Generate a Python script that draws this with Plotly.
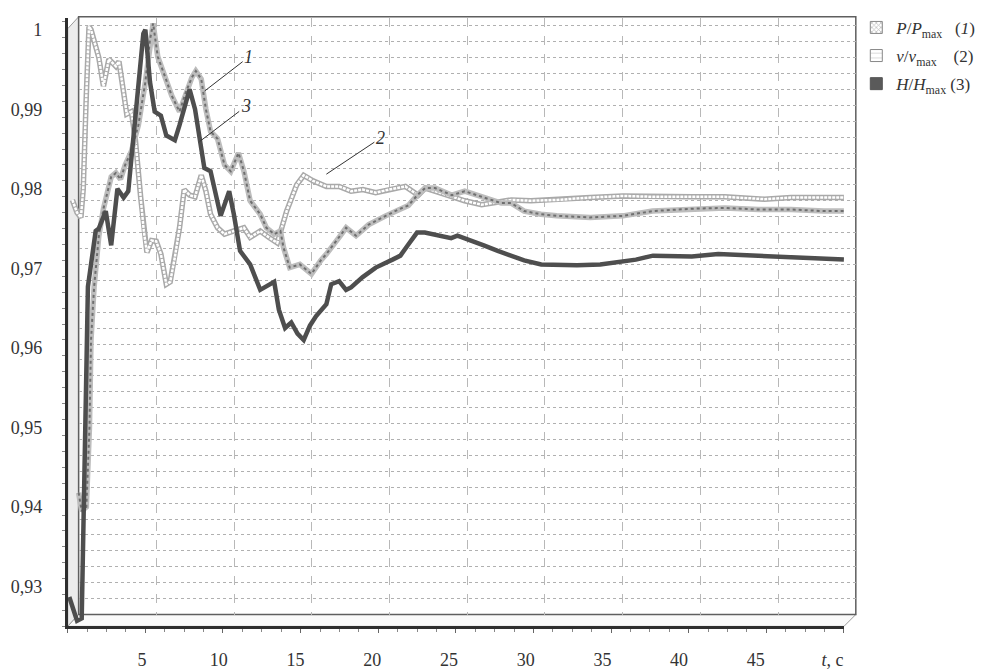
import plotly.graph_objects as go

W, H = 983, 670

# ---------------- data ----------------
t_P = [0.7, 0.9, 1.2, 1.4, 1.5, 1.7, 2.0, 2.3, 2.8, 3.1, 3.4, 3.7, 4.1, 4.55, 5.0, 5.3, 5.5,
       5.8, 6.25, 6.7, 7.2, 7.6, 8.0, 8.25, 8.6, 8.9, 9.2, 9.65, 10.1, 10.5, 11.0, 11.35, 11.75,
       12.4, 12.8, 13.3, 13.7, 13.9, 14.3, 14.95, 15.7, 16.3, 16.66, 17.48, 17.93, 18.57, 19.39,
       20.48, 21.31, 21.94, 22.52, 23.03, 23.66, 24.75, 25.57, 26.66, 27.93, 28.57, 29.4, 30.48,
       31.5, 33.66, 35.76, 37.67, 40.22, 42.32, 44.49, 46.59, 48.7, 50.0]
P_rel = [0.9418, 0.9395, 0.9400, 0.9500, 0.9610, 0.9677, 0.9740, 0.9775, 0.9815, 0.9820, 0.9812,
         0.9830, 0.9847, 0.9880, 0.9934, 0.9988, 1.0008, 0.9966, 0.9942, 0.9917, 0.9897, 0.9921,
         0.9940, 0.9948, 0.9938, 0.9900, 0.9872, 0.9863, 0.9830, 0.9822, 0.9845, 0.9822, 0.9785,
         0.9768, 0.9751, 0.9743, 0.9747, 0.9726, 0.9701, 0.9705, 0.9693, 0.9710, 0.9718, 0.9739,
         0.9751, 0.9741, 0.9755, 0.9766, 0.9774, 0.9779, 0.9792, 0.9801, 0.9801, 0.9792, 0.9797,
         0.9790, 0.9782, 0.9782, 0.9772, 0.9768, 0.9766, 0.9764, 0.9766, 0.9772, 0.9775, 0.9776,
         0.9774, 0.9774, 0.9772, 0.9772]

t_v = [0.3, 0.6, 0.85, 1.0, 1.2, 1.37, 1.5, 1.8, 2.0, 2.3, 2.65, 3.1, 3.3, 3.6, 3.8, 4.1, 4.35,
       4.7, 4.9, 5.1, 5.4, 5.7, 6.0, 6.35, 6.6, 6.9, 7.2, 7.5, 7.85, 8.2, 8.6, 8.9, 9.2, 9.65,
       10.1, 10.7, 11.35, 11.75, 12.4, 12.95, 13.5, 14.1, 14.75, 15.2, 15.8, 16.66, 17.48, 18.25,
       19.01, 19.84, 20.67, 21.75, 22.58, 23.03, 24.3, 25.57, 26.66, 27.67, 28.57, 29.84, 31.5,
       33.66, 35.76, 37.67, 40.22, 42.32, 44.87, 46.59, 50.0]
v_rel = [0.9786, 0.9770, 0.9764, 0.9800, 0.9920, 1.0004, 1.0000, 0.9979, 0.9965, 0.9929, 0.9963,
         0.9954, 0.9960, 0.9921, 0.9894, 0.9897, 0.9863, 0.9789, 0.9747, 0.9720, 0.9735, 0.9734,
         0.9718, 0.9680, 0.9683, 0.9714, 0.9751, 0.9799, 0.9792, 0.9790, 0.9817, 0.9797, 0.9768,
         0.9751, 0.9743, 0.9747, 0.9751, 0.9739, 0.9747, 0.9739, 0.9732, 0.9772, 0.9805, 0.9817,
         0.9810, 0.9803, 0.9803, 0.9797, 0.9799, 0.9795, 0.9799, 0.9803, 0.9792, 0.9801, 0.9793,
         0.9785, 0.9780, 0.9783, 0.9786, 0.9785, 0.9786, 0.9789, 0.9791, 0.9790, 0.9790, 0.9790,
         0.9787, 0.9789, 0.9789]

t_H = [0.1, 0.6, 0.9, 1.0, 1.1, 1.25, 1.3, 1.8, 2.0, 2.45, 2.8, 3.2, 3.6, 3.9, 4.3, 4.87, 5.0,
       5.3, 5.6, 6.0, 6.35, 6.9, 7.2, 7.85, 8.2, 8.5, 8.8, 9.2, 9.55, 9.85, 10.4, 10.7, 11.1,
       11.75, 12.4, 13.3, 13.6, 14.0, 14.4, 14.8, 15.2, 15.6, 16.0, 16.66, 16.97, 17.48, 17.93,
       18.25, 19.0, 19.84, 20.92, 21.43, 21.94, 22.5, 23.0, 23.85, 24.7, 25.1, 26.0, 26.8, 27.7,
       28.6, 29.4, 30.5, 31.5, 32.8, 34.3, 35.3, 36.6, 37.7, 40.2, 41.9, 43.0, 45.5, 47.2, 50.0]
H_rel = [0.9287, 0.9257, 0.9260, 0.9380, 0.9480, 0.9600, 0.9677, 0.9747, 0.9750, 0.9772, 0.9729,
         0.9800, 0.9789, 0.9797, 0.9880, 0.9995, 1.0000, 0.9934, 0.9897, 0.9892, 0.9867, 0.9861,
         0.9880, 0.9925, 0.9900, 0.9863, 0.9826, 0.9822, 0.9789, 0.9766, 0.9797, 0.9768, 0.9722,
         0.9705, 0.9673, 0.9683, 0.9648, 0.9625, 0.9632, 0.9618, 0.9610, 0.9628, 0.9640, 0.9655,
         0.9680, 0.9684, 0.9673, 0.9676, 0.9689, 0.9701, 0.9711, 0.9716, 0.9730, 0.9745, 0.9745,
         0.9741, 0.9738, 0.9741, 0.9735, 0.9729, 0.9722, 0.9716, 0.9710, 0.9705, 0.9704, 0.9704,
         0.9705, 0.9708, 0.9711, 0.9716, 0.9715, 0.9718, 0.9717, 0.9715, 0.9713, 0.9711]

y_tickvals = [0.93, 0.94, 0.95, 0.96, 0.97, 0.98, 0.99, 1.0]
y_ticktext = ["0,93", "0,94", "0,95", "0,96", "0,97", "0,98", "0,99", "1"]
x_tickvals = [5, 10, 15, 20, 25, 30, 35, 40, 45, 50]
x_ticktext = ["5", "10", "15", "20", "25", "30", "35", "40", "45", "<i>t</i>, c"]

legend_names = ["<i>P</i>/<i>P</i><sub>max</sub>   (<i>1</i>)",
                "<i>v</i>/<i>v</i><sub>max</sub>    (2)",
                "<i>H</i>/<i>H</i><sub>max</sub> (3)"]

# ---------------- geometry (pixels) ----------------
FL, FR = 68.5, 853.5          # front plane x for t=0 and t=50
FB, FT = 633.0, 30.0          # front plane y for 0.925 and 1.0
DX, DY = 11.0, -12.0          # depth offset to back wall
YMIN, YMAX = 0.925, 1.0
PPU = (FB - FT) / (YMAX - YMIN)
Y2TOP = 1.0015
y2_top_px = FT - (Y2TOP - YMAX) * PPU

BL, BR = FL + DX, FR + DX + 1
BB, BT = FB + DY, FT + DY

def px(x):
    return x / W

def py(y):
    return (H - y) / H

SERIF = "Liberation Serif, Times New Roman, serif"
INK = "#333333"

fig = go.Figure()

# legend carriers (on the back-wall subplot, no visible data)
fig.add_trace(go.Bar(x=[None], y=[None], name=legend_names[0], legendgroup="a",
                     marker=dict(color="white", line=dict(color="#888", width=1),
                                 pattern=dict(shape="x", fgcolor="#777", size=4, solidity=0.4))))
fig.add_trace(go.Bar(x=[None], y=[None], name=legend_names[1], legendgroup="b",
                     marker=dict(color="white", line=dict(color="#888", width=1),
                                 pattern=dict(shape="-", fgcolor="#999", size=6, solidity=0.15))))
fig.add_trace(go.Bar(x=[None], y=[None], name=legend_names[2], legendgroup="c",
                     marker=dict(color="#5a5a5a", line=dict(color="#555", width=1))))

# series 2 : v/vmax (box ribbon)
fig.add_trace(go.Scatter(x=t_v, y=v_rel, mode="lines", xaxis="x2", yaxis="y2", showlegend=False,
                         line=dict(color="#a9a9a9", width=5.5), hoverinfo="skip"))
fig.add_trace(go.Scatter(x=t_v, y=v_rel, mode="lines", xaxis="x2", yaxis="y2", showlegend=False,
                         line=dict(color="white", width=2.5, dash="3px,1px"), hoverinfo="skip"))
# series 1 : P/Pmax (hatched ribbon)
fig.add_trace(go.Scatter(x=t_P, y=P_rel, mode="lines", xaxis="x2", yaxis="y2", showlegend=False,
                         line=dict(color="#bdbdbd", width=5.5), hoverinfo="skip"))
fig.add_trace(go.Scatter(x=t_P, y=P_rel, mode="lines", xaxis="x2", yaxis="y2", showlegend=False,
                         line=dict(color="#6f6f6f", width=2, dash="dot"), hoverinfo="skip"))
# series 3 : H/Hmax (solid dark)
fig.add_trace(go.Scatter(x=t_H, y=H_rel, mode="lines", xaxis="x2", yaxis="y2", showlegend=False,
                         line=dict(color="#4e4e4e", width=4.5), hoverinfo="skip"))

# label-only axis carrier
fig.add_trace(go.Scatter(x=[], y=[], xaxis="x3", yaxis="y2", showlegend=False, hoverinfo="skip"))

# ---------------- 3D frame decoration ----------------
def path(points):
    s = "M " + " L ".join(f"{px(a):.5f},{py(b):.5f}" for a, b in points) + " Z"
    return s

shapes = [
    # left side wall
    dict(type="path", xref="paper", yref="paper", layer="below",
         path=path([(FL, FT - 1), (BL, BT - 1), (BL, BB), (FL, FB)]),
         fillcolor="#ececec", line=dict(color="#9a9a9a", width=1)),
    # floor
    dict(type="path", xref="paper", yref="paper", layer="below",
         path=path([(FL, FB), (FR, FB), (BR, BB), (BL, BB)]),
         fillcolor="#fafafa", line=dict(color="#9a9a9a", width=1)),
    # back wall border
    dict(type="rect", xref="paper", yref="paper", layer="below",
         x0=px(BL), x1=px(BR), y0=py(BB), y1=py(BT - 1),
         fillcolor="rgba(0,0,0,0)", line=dict(color="#5f5f5f", width=1.5)),
]

fig.update_layout(
    width=W, height=H, autosize=False,
    margin=dict(l=0, r=0, t=0, b=0),
    paper_bgcolor="white", plot_bgcolor="rgba(0,0,0,0)",
    shapes=shapes,
    showlegend=True,
    legend=dict(x=px(866), y=py(10), xanchor="left", yanchor="top",
                font=dict(family=SERIF, size=17, color=INK),
                bgcolor="rgba(0,0,0,0)", traceorder="grouped", tracegroupgap=3,
                itemwidth=30),
    # back wall grid
    xaxis=dict(domain=[px(BL), px(BR)], range=[0, 50], anchor="y",
               showgrid=True, gridcolor="#b8b8b8", griddash="dash", gridwidth=1,
               dtick=5, tick0=0, showticklabels=False, ticks="", zeroline=False, showline=False,
               fixedrange=True),
    yaxis=dict(domain=[py(BB), py(BT)], range=[YMIN, YMAX], anchor="x",
               showgrid=True, gridcolor="#b0b0b0", griddash="dot", gridwidth=1,
               dtick=0.002, tick0=0.925, showticklabels=False, ticks="", zeroline=False,
               showline=False, fixedrange=True),
    # front data plane
    xaxis2=dict(domain=[px(FL), px(FR)], range=[0, 50], anchor="y2",
                showgrid=False, zeroline=False, showline=True, linecolor="#2e2e2e", linewidth=3,
                showticklabels=False, ticks="outside", ticklen=4, tickcolor="#666", dtick=5,
                minor=dict(ticks="outside", ticklen=3, dtick=1.25, tickcolor="#888"),
                fixedrange=True),
    yaxis2=dict(domain=[py(FB), py(y2_top_px)], range=[YMIN, Y2TOP], anchor="x2",
                showgrid=False, zeroline=False, showline=True, linecolor="#2e2e2e", linewidth=3,
                tickvals=y_tickvals, ticktext=y_ticktext, ticks="",
                minor=dict(ticks="outside", ticklen=3, dtick=0.002, tick0=0.925, tickcolor="#888"),
                ticklabelstandoff=19,
                tickfont=dict(family=SERIF, size=18, color=INK), fixedrange=True),
    # label-only time axis
    xaxis3=dict(domain=[px(66), px(842)], range=[0, 50], anchor="y2",
                showgrid=False, zeroline=False, showline=False, ticks="",
                tickvals=x_tickvals, ticktext=x_ticktext, ticklabelstandoff=21,
                tickfont=dict(family=SERIF, size=18, color=INK), fixedrange=True),
)

# callout numbers with leader lines
callouts = [("<i>1</i>", 8.82, 0.99229, 44, -34),
            ("<i>3</i>", 8.50, 0.98595, 46, -35),
            ("<i>2</i>", 16.66, 0.98184, 54, -36)]
for txt, cx, cy, ax, ay in callouts:
    fig.add_annotation(x=cx, y=cy, xref="x2", yref="y2", text=txt, showarrow=True,
                       arrowhead=0, arrowwidth=1, arrowcolor="#333", ax=ax, ay=ay,
                       standoff=0, font=dict(family=SERIF, size=18, color=INK))

# remove the default page margin so the figure sits at the window origin
fig.write_html("out.html", config={"displayModeBar": False},
               post_script="document.body.style.margin='0';document.body.style.overflow='hidden';")
